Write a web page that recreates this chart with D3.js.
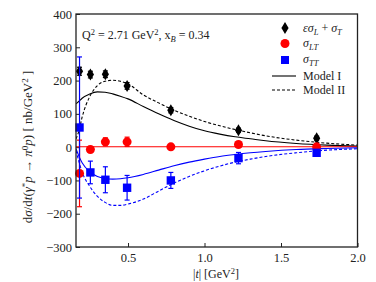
<!DOCTYPE html>
<html><head><meta charset="utf-8">
<script src="https://cdn.jsdelivr.net/npm/d3@7"></script>
<style>body{margin:0;background:#fff}svg{display:block}</style>
</head><body><svg id="c" width="376" height="282"></svg>
<script>
// data points
const tData = [0.183, 0.254, 0.352, 0.494, 0.78, 1.222, 1.733];
const sigUT = [228, 218, 219, 184, 111, 51, 27];
const errUT = [12, 10, 10, 10, 8, 6, 6];
const sigLT = [-79, -7, 16, 16, 1, 8, 1];
const errLT = [100, 8, 12, 14, 6, 6, 6];
const sigTT = [59, -76, -98, -122, -100, -33, -17];
const errTT = [212, 34, 39, 37, 24, 17, 8];
// model curves
const tModel = [0.16, 0.18, 0.2, 0.25, 0.3, 0.35, 0.4, 0.45, 0.5, 0.6, 0.7, 0.8, 0.9, 1.0, 1.1, 1.2, 1.3, 1.4, 1.6, 1.8, 2.0];
const m1UT = [130, 138, 147, 160, 166, 165, 160, 153, 145, 122, 100, 80, 63, 49, 39, 31, 25, 19, 11, 6, 3];
const m2UT = [25, 50, 90, 152, 185, 198, 201, 198, 190, 157, 133, 111, 93, 77, 64, 53, 43, 34, 21, 12, 6];
const m1LT = [1, 1, 1, 1, 1, 1, 1, 1, 1, 1, 1, 1, 1, 1, 1, 1, 1, 1, 1, 1, 1];
const m1TT = [-5, -28, -47, -74, -88, -94, -96, -95, -92, -82, -69, -56, -45, -36, -28, -22, -17, -13, -7, -4, -2];
const m2TT = [-10, -45, -75, -118, -148, -166, -175, -175, -171, -156, -132, -108, -88, -71, -57, -45, -36, -28, -17, -9, -5];
const xTicks = [0.5, 1.0, 1.5, 2.0];
const yTicks = [-300, -200, -100, 0, 100, 200, 300, 400];

const FONT = "'Liberation Serif','Times New Roman','DejaVu Serif',serif";
const svg = d3.select("#c").attr("font-family", FONT);
const L = 76, R = 357.5, T = 14, B = 247;
const x = d3.scaleLinear().domain([0.16, 2.0]).range([L, R]);
const y = d3.scaleLinear().domain([-300, 400]).range([B, T]);

const defs = svg.append("defs");
defs.append("clipPath").attr("id", "clip").append("rect").attr("x", L).attr("y", T).attr("width", R - L).attr("height", B - T);

// axes
const xa = svg.append("g").attr("transform", `translate(0,${B})`)
  .call(d3.axisBottom(x).tickValues(xTicks).tickFormat(d3.format(".1f")).tickSizeInner(-4).tickSizeOuter(0));
const ya = svg.append("g").attr("transform", `translate(${L},0)`)
  .call(d3.axisLeft(y).tickValues(yTicks).tickSizeInner(-4).tickSizeOuter(0));
[xa, ya].forEach(a => { a.attr("font-family", FONT); a.select(".domain").remove(); a.selectAll("line").attr("stroke", "#222"); a.selectAll("text").style("font-size", "12.5px").style("font-family", FONT).attr("fill", "#222"); });
xa.selectAll("text").attr("y", 6).attr("dy", "0.71em");
ya.selectAll("text").attr("x", -4);

// model curves
const g = svg.append("g").attr("clip-path", "url(#clip)");
const line = d3.line().x(d => x(d[0])).y(d => y(d[1])).curve(d3.curveMonotoneX);
function curve(vals, color, dash) {
  g.append("path").datum(tModel.map((t, i) => [t, vals[i]])).attr("d", line)
    .attr("fill", "none").attr("stroke", color).attr("stroke-width", 1.1)
    .attr("stroke-dasharray", dash);
}
curve(m1UT, "#000", null);
curve(m2UT, "#000", "3,2");
curve(m1LT, "#ff0000", null);
curve(m1TT, "#0000ff", null);
curve(m2TT, "#0000ff", "3,2");

// error bars + markers
function errs(vals, err, color) {
  const eg = svg.append("g").attr("stroke", color).attr("stroke-width", 1.2);
  tData.forEach((t, i) => {
    const cx = x(t), y1 = y(vals[i] + err[i]), y2 = y(vals[i] - err[i]);
    eg.append("line").attr("x1", cx).attr("x2", cx).attr("y1", y1).attr("y2", y2);
    eg.append("line").attr("x1", cx - 2.5).attr("x2", cx + 2.5).attr("y1", y1).attr("y2", y1);
    eg.append("line").attr("x1", cx - 2.5).attr("x2", cx + 2.5).attr("y1", y2).attr("y2", y2);
  });
}
const diamond = (cx, cy) => `M${cx},${cy - 6}L${cx + 3.6},${cy}L${cx},${cy + 6}L${cx - 3.6},${cy}Z`;
errs(sigUT, errUT, "#000");
svg.append("g").selectAll("path").data(tData).join("path")
  .attr("d", (t, i) => diamond(x(t), y(sigUT[i]))).attr("fill", "#000");
errs(sigLT, errLT, "#ff0000");
svg.append("g").selectAll("circle").data(tData).join("circle")
  .attr("cx", t => x(t)).attr("cy", (t, i) => y(sigLT[i])).attr("r", 4.5).attr("fill", "#ff0000");
errs(sigTT, errTT, "#0000ff");
svg.append("g").selectAll("rect").data(tData).join("rect")
  .attr("x", t => x(t) - 4.2).attr("y", (t, i) => y(sigTT[i]) - 4.2).attr("width", 8.4).attr("height", 8.4).attr("fill", "#0000ff");

// frame
svg.append("rect").attr("x", L).attr("y", T).attr("width", R - L).attr("height", B - T)
  .attr("fill", "none").attr("stroke", "#222").attr("stroke-width", 1.3);

function txt(xx, yy, size) {
  return svg.append("text").attr("x", xx).attr("y", yy).style("font-size", size + "px").style("font-family", FONT).attr("fill", "#222");
}
// annotation
const ann = txt(82, 39, 12);
ann.append("tspan").text("Q");
ann.append("tspan").attr("dy", -4).style("font-size", "8.5px").text("2");
ann.append("tspan").attr("dy", 4).text(" = 2.71 GeV");
ann.append("tspan").attr("dy", -4).style("font-size", "8.5px").text("2");
ann.append("tspan").attr("dy", 4).text(", x");
ann.append("tspan").attr("dy", 2.5).style("font-size", "8.5px").style("font-style", "italic").text("B");
ann.append("tspan").attr("dy", -2.5).text(" = 0.34");

// legend
const lx = 285, tx = 303;
svg.append("path").attr("d", diamond(lx, 28)).attr("fill", "#000");
svg.append("circle").attr("cx", lx).attr("cy", 43.5).attr("r", 4.5).attr("fill", "#ff0000");
svg.append("rect").attr("x", lx - 4).attr("y", 56).attr("width", 8).attr("height", 8).attr("fill", "#0000ff");
svg.append("line").attr("x1", 272).attr("x2", 296).attr("y1", 76).attr("y2", 76).attr("stroke", "#000").attr("stroke-width", 1.1);
svg.append("line").attr("x1", 272).attr("x2", 296).attr("y1", 90).attr("y2", 90).attr("stroke", "#000").attr("stroke-width", 1.1).attr("stroke-dasharray", "3,2");
function sigmaText(yy, parts) {
  const t = txt(tx, yy, 12);
  parts.forEach(p => {
    const s = t.append("tspan").text(p.s);
    if (p.it) s.style("font-style", "italic");
    if (p.sub) { s.attr("dy", 2.5).style("font-size", "8.5px"); }
    if (p.back) s.attr("dy", -2.5);
  });
}
sigmaText(32, [{s: "εσ", it: 1}, {s: "L", it: 1, sub: 1}, {s: " + ", back: 1}, {s: "σ", it: 1}, {s: "T", it: 1, sub: 1}]);
sigmaText(47, [{s: "σ", it: 1}, {s: "LT", it: 1, sub: 1}]);
sigmaText(63, [{s: "σ", it: 1}, {s: "TT", it: 1, sub: 1}]);
txt(tx, 80, 12).text("Model I");
txt(tx, 94, 12).text("Model II");

// x label
const xl = txt(216, 278, 12).attr("text-anchor", "middle");
xl.append("tspan").text("|");
xl.append("tspan").style("font-style", "italic").text("t");
xl.append("tspan").text("| [GeV");
xl.append("tspan").attr("dy", -4).style("font-size", "8.5px").text("2");
xl.append("tspan").attr("dy", 4).text("]");

// y label
const yl = svg.append("text").attr("transform", "translate(32,147) rotate(-90)").attr("text-anchor", "middle")
  .style("font-size", "13px").style("font-family", FONT).attr("fill", "#222");
yl.append("tspan").text("d");
yl.append("tspan").style("font-style", "italic").text("σ");
yl.append("tspan").text("/d");
yl.append("tspan").style("font-style", "italic").text("t");
yl.append("tspan").text("(");
yl.append("tspan").style("font-style", "italic").text("γ");
yl.append("tspan").attr("dy", -4).style("font-size", "9px").text("*");
yl.append("tspan").attr("dy", 4).style("font-style", "italic").text("p");
yl.append("tspan").text(" → ");
yl.append("tspan").style("font-style", "italic").text("π");
yl.append("tspan").attr("dy", -4).style("font-size", "9px").text("0");
yl.append("tspan").attr("dy", 4).style("font-style", "italic").text("p");
yl.append("tspan").text(") [ nb/GeV");
yl.append("tspan").attr("dy", -4).style("font-size", "9px").text("2");
yl.append("tspan").attr("dy", 4).text(" ]");
</script></body></html>
